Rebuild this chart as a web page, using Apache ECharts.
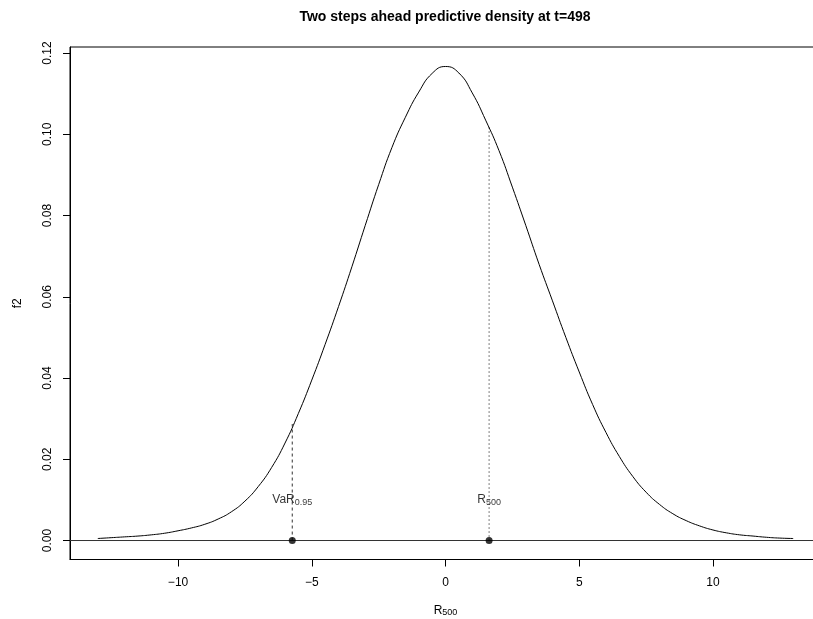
<!DOCTYPE html>
<html>
<head>
<meta charset="utf-8">
<script src="https://cdn.jsdelivr.net/npm/echarts@6/dist/echarts.min.js"></script>
<style>html,body{margin:0;padding:0;background:#fff}#c{width:813px;height:619px}</style>
</head>
<body>
<div id="c"></div>
<script>
// Density curve
const xs = [-13,-12.5,-12,-11.5,-11,-10.5,-10,-9.5,-9,-8.5,-8,-7.5,-7,-6.5,-6,-5.5,-5,-4.5,-4,-3.5,-3,-2.5,-2,-1.5,-1,-0.5,0,0.5,1,1.5,2,2.5,3,3.5,4,4.5,5,5.5,6,6.5,7,7.5,8,8.5,9,9.5,10,10.5,11,11.5,12,12.5,13];
const f2 = [0.0005,0.0007,0.0009,0.0011,0.0014,0.0018,0.0024,0.0031,0.0040,0.0053,0.0071,0.0097,0.0133,0.0180,0.0240,0.0313,0.0395,0.0483,0.0576,0.0674,0.0776,0.0876,0.0968,0.1042,0.1104,0.1150,0.1167,0.1151,0.1102,0.1035,0.0960,0.0870,0.0776,0.0680,0.0590,0.0500,0.0415,0.0335,0.0266,0.0207,0.0158,0.0119,0.0089,0.0066,0.0049,0.0036,0.0026,0.0019,0.0014,0.0011,0.0008,0.0006,0.0005];
// Markers
const varX = -5.73, varY = 0.0287;
const rX = 1.63, rY = 0.1018;
const labelY = 0.01;
const xTicks = [-10,-5,0,5,10];
const yTicks = [0,0.02,0.04,0.06,0.08,0.10,0.12];
const xMin = -14.04, xMax = 14.04, yMin = -0.00467, yMax = 0.1215;

const FONT = 'Liberation Sans, Arial, Helvetica, sans-serif';
const chart = echarts.init(document.getElementById('c'), null, {renderer:'canvas'});
const curve = xs.map((x,i)=>[x,f2[i]]);
const subRich = {
  a:{fontSize:12, fontFamily:FONT, color:'#000', verticalAlign:'middle'},
  b:{fontSize:9, fontFamily:FONT, color:'#000', verticalAlign:'bottom', padding:[5,0,0,0]}
};
chart.setOption({
  animation:false,
  backgroundColor:'#fff',
  title:{text:'Two steps ahead predictive density at t=498', left:445, textAlign:'center', top:10, padding:0,
    textStyle:{fontFamily:FONT, fontSize:14, fontWeight:'bold', color:'#000'}},
  grid:{left:70, top:47, width:751, height:512.5, containLabel:false, outerBoundsMode:'none',
    show:true, borderColor:'#000', borderWidth:1, backgroundColor:'transparent'},
  xAxis:{type:'value', min:xMin, max:xMax,
    name:'{a|R}{b|500}', nameLocation:'middle', nameGap:44,
    nameTextStyle:{rich:subRich},
    axisLine:{show:true, onZero:false, lineStyle:{color:'#000'}},
    axisTick:{show:true, length:7, inside:false, customValues:xTicks, lineStyle:{color:'#000'}},
    axisLabel:{customValues:xTicks, margin:17, fontFamily:FONT, fontSize:12, color:'#000',
      formatter:v=>String(v).replace('-','\u2212')},
    splitLine:{show:false}},
  yAxis:{type:'value', min:yMin, max:yMax,
    name:'f2', nameLocation:'middle', nameGap:46, nameRotate:90,
    nameTextStyle:{fontFamily:FONT, fontSize:12, color:'#000'},
    axisLine:{show:true, onZero:false, lineStyle:{color:'#000'}},
    axisTick:{show:true, length:7, customValues:yTicks, lineStyle:{color:'#000'}},
    axisLabel:{customValues:yTicks, rotate:90, margin:16, fontFamily:FONT, fontSize:12, color:'#000',
      formatter:v=>v.toFixed(2)},
    splitLine:{show:false}},
  series:[
    {type:'line', data:[[xMin,0],[xMax,0]], showSymbol:false, lineStyle:{color:'#333', width:1}, silent:true, z:1},
    {type:'line', data:curve, smooth:0.5, showSymbol:false, lineStyle:{color:'#000', width:1}, z:3},
    {type:'line', data:[[varX,0],[varX,varY]], showSymbol:false, lineStyle:{color:'#333', width:1, type:[3,3]}, z:2},
    {type:'line', data:[[rX,0],[rX,rY]], showSymbol:false, lineStyle:{color:'#000', width:1, type:[1,3]}, z:2},
    {type:'scatter', data:[[varX,0],[rX,0]], symbol:'circle', symbolSize:7, itemStyle:{color:'#000'}, z:4},
    {type:'scatter', data:[
        {value:[varX,labelY], label:{formatter:'{a|VaR}{b|0.95}'}},
        {value:[rX,labelY], label:{formatter:'{a|R}{b|500}'}}
      ], symbolSize:0, z:5,
      label:{show:true, position:'inside', rich:subRich}}
  ]
});
</script>
</body>
</html>
